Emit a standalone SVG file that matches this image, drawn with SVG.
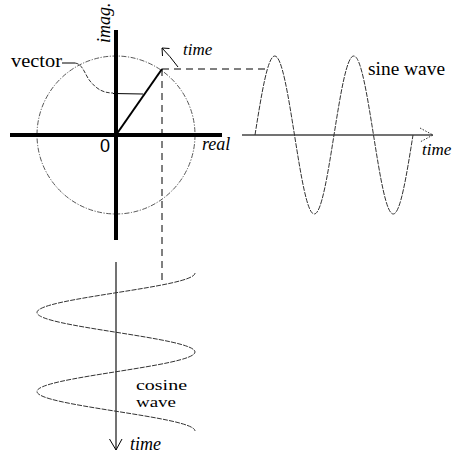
<svg xmlns="http://www.w3.org/2000/svg" width="457" height="457" viewBox="0 0 457 457">
<style>
.serif{font-family:"Liberation Serif","Times New Roman",serif;fill:#000}
.it{font-style:italic}
.sans{font-family:"Liberation Sans",Arial,sans-serif;fill:#000}
.axis{stroke:#000;stroke-width:4;fill:none}
.thinaxis{stroke:#444;stroke-width:1.5;fill:none}
.wave{stroke:#333;stroke-width:1;fill:none;stroke-dasharray:5 1.2}
.circ{stroke:#444;stroke-width:0.9;fill:none;stroke-dasharray:5 1.5 1.2 1.5}
.dash{stroke:#000;stroke-width:1;fill:none;stroke-dasharray:7 5}
.dot{stroke:#333;stroke-width:1;fill:none;stroke-dasharray:1.5 1.5}
.thin{stroke:#000;stroke-width:1;fill:none}
</style>
<rect width="457" height="457" fill="#fff"/>

<g id="phasor">
  <circle class="circ" cx="116" cy="135" r="79"/>
  <line class="axis" x1="116" y1="30" x2="116" y2="240"/>
  <line class="axis" x1="10" y1="135" x2="222" y2="135"/>
  <line x1="116" y1="135" x2="162" y2="69" stroke="#000" stroke-width="2"/>
  <text class="serif it" font-size="18" transform="translate(110,43) rotate(-90)">imag.</text>
  <text class="serif it" font-size="18" x="202" y="150">real</text>
  <text class="sans" font-size="18" x="100" y="152">0</text>
</g>

<g id="vector-label">
  <text class="serif" font-size="18" x="11" y="67" textLength="51" lengthAdjust="spacingAndGlyphs">vector</text>
  <line class="thin" x1="62" y1="63" x2="75" y2="63"/>
  <path d="M75,63 C83,64 85,75 90,81 S101,93 113,93" stroke="#333" stroke-width="1" fill="none" stroke-dasharray="4 1.5"/>
  <line class="thin" x1="113" y1="93.5" x2="143" y2="94"/>
</g>

<g id="rotation">
  <path class="thin" d="M178,67 Q170,56 162,48" stroke-width="1.5"/>
  <path class="thin" d="M169.5,48.5 L162,48 L162.5,56" stroke-width="1.5"/>
  <text class="serif it" font-size="17" x="183" y="55">time</text>
</g>

<g id="sine">
  <line class="thinaxis" x1="242" y1="135" x2="433" y2="135"/>
  <path class="dot" d="M420,128 L433,135 L420,142"/>
  <path class="wave" d="M255,135 C261.6,93.52 267.64,56 274.75,56 C281.86,56 287.9,93.52 294.5,135 C301.1,176.48 307.14,214 314.25,214 C321.36,214 327.4,176.48 334,135 C340.6,93.52 346.64,56 353.75,56 C360.86,56 366.9,93.52 373.5,135 C380.1,176.48 386.14,214 393.25,214 C400.36,214 406.4,176.48 413,135"/>
  <text class="serif" font-size="18" x="368" y="75" textLength="77" lengthAdjust="spacingAndGlyphs">sine wave</text>
  <text class="serif it" font-size="17" x="422" y="155">time</text>
</g>

<g id="cosine">
  <line class="thinaxis" x1="116" y1="262" x2="116" y2="450"/>
  <path class="thin" d="M109.5,439 L116,450 L122,439" stroke="#333"/>
  <path class="wave" d="M195,273 C195,280.11 157.48,286.15 116,292.75 C74.52,299.35 37,305.39 37,312.5 C37,319.61 74.52,325.65 116,332.25 C157.48,338.85 195,344.89 195,352 C195,359.11 157.48,365.15 116,371.75 C74.52,378.35 37,384.39 37,391.5 C37,398.61 74.52,404.65 116,411.25 C157.48,417.85 195,423.89 195,431"/>
  <text class="serif" font-size="14" x="136" y="390" textLength="51" lengthAdjust="spacingAndGlyphs">cosine</text>
  <text class="serif" font-size="14" x="136" y="407" textLength="40" lengthAdjust="spacingAndGlyphs">wave</text>
  <text class="serif it" font-size="18" x="130" y="450">time</text>
</g>

<g id="connectors">
  <path class="dash" d="M162,69 H268"/>
  <path class="dash" d="M162,69 V285"/>
</g>
</svg>
